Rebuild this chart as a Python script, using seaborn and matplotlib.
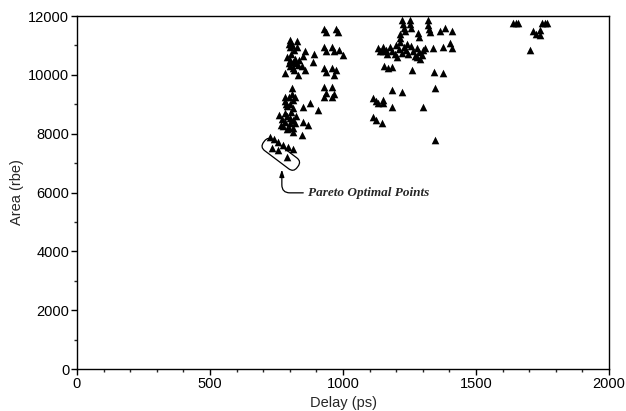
import matplotlib
matplotlib.use("Agg")
import matplotlib.pyplot as plt
import matplotlib.transforms as mtransforms
from matplotlib.patches import FancyBboxPatch
from matplotlib.ticker import MultipleLocator
import pandas as pd
import seaborn as sns

# design points: delay (ps), area (rbe)
delay_a = [800, 805, 810, 800, 826, 826, 850, 857, 891, 888,
           790, 800, 812, 820, 830, 845, 800, 812, 825,
           795, 815, 805, 795, 835, 815,
           782, 831, 857, 807, 807, 820, 782,
           782, 790, 812, 812, 800, 850, 876, 906,
           785, 795, 805, 780, 800, 825, 790, 820, 775,
           760, 770, 780, 790, 800, 812, 765, 795,
           850, 868, 812, 812, 845,
           726, 742, 754, 776, 794, 813]
area_a = [11200, 11100, 11000, 10950, 11150, 10950, 10650, 10800, 10700, 10450,
          10600, 10500, 10450, 10550, 10350, 10300, 10300, 10250, 10400,
          11050, 10850, 10700, 10400, 10500, 10150,
          10080, 9990, 10160, 9550, 9350, 9250, 9250,
          9100, 8950, 9140, 8880, 9000, 8920, 9040, 8800,
          9000, 9250, 8750, 8700, 8550, 8600, 8150, 8350, 8250,
          8620, 8500, 8400, 8600, 8350, 8450, 8300, 8200,
          8410, 8290, 8190, 8050, 7950,
          7896, 7818, 7726, 7614, 7556, 7478]

delay_b = [930, 935, 975, 980, 930, 935, 960, 965, 985, 1000,
           930, 935, 960, 965, 975, 930, 935, 960, 965, 930, 960]
area_b = [11550, 11450, 11550, 11450, 10950, 10800, 10950, 10800, 10850, 10670,
          10250, 10100, 10250, 10000, 10150, 9600, 9400, 9600, 9350, 9250, 9250]

delay_c = [1222, 1225, 1228, 1232, 1252, 1252, 1255, 1282, 1285, 1320,
           1320, 1323, 1326, 1365, 1383, 1410, 1214, 1214, 1214,
           1130, 1140, 1150, 1160, 1165, 1175, 1185, 1195, 1200, 1210,
           1220, 1228, 1238, 1245, 1255, 1262, 1270, 1278, 1285, 1295,
           1300, 1203, 1278, 1290, 1150, 1240,
           1308, 1338, 1376, 1410, 1402,
           1155, 1170, 1185, 1260, 1340, 1376, 1184, 1222, 1346,
           1113, 1125, 1132, 1150, 1150, 1184, 1300,
           1113, 1125, 1147, 1346]
area_c = [11850, 11720, 11600, 11500, 11850, 11720, 11580, 11420, 11300, 11850,
          11700, 11560, 11450, 11500, 11580, 11500, 11400, 11250, 11120,
          10900, 10800, 10950, 10850, 10700, 10950, 10820, 10700, 11000, 10880,
          10750, 10950, 10850, 10700, 10980, 10800, 10650, 10900, 10780, 10680,
          10850, 10600, 10600, 10530, 10800, 11050,
          10910, 10910, 10950, 10910, 11100,
          10300, 10250, 10280, 10160, 10100, 10060, 9480, 9420, 9550,
          9200, 9100, 9040, 9150, 9050, 8900, 8900,
          8560, 8460, 8360, 7780]

delay_d = [1640, 1650, 1658, 1748, 1758, 1767, 1714, 1725, 1741, 1741, 1703]
area_d = [11760, 11760, 11760, 11760, 11760, 11760, 11500, 11400, 11520, 11350, 10840]

# pareto optimal points (inside the loop)
delay_p = [732, 757, 788]
area_p = [7522, 7444, 7216]

df = pd.DataFrame({
    "delay": delay_a + delay_b + delay_c + delay_d + delay_p,
    "area": area_a + area_b + area_c + area_d + area_p,
})

sns.set_style("ticks")
plt.rcParams["font.family"] = ["Liberation Sans", "DejaVu Sans"]

fig = plt.figure(figsize=(6.26, 4.11), dpi=100)
ax = fig.add_axes([0.123, 0.102, 0.850, 0.859])

sns.scatterplot(data=df, x="delay", y="area", marker="^", color="black",
                s=30, linewidth=0, ax=ax)

ax.set_xlim(0, 2000)
ax.set_ylim(0, 12000)
ax.xaxis.set_major_locator(MultipleLocator(500))
ax.xaxis.set_minor_locator(MultipleLocator(100))
ax.yaxis.set_major_locator(MultipleLocator(2000))
ax.yaxis.set_minor_locator(MultipleLocator(1000))
ax.tick_params(which="major", length=4, width=1, labelsize=10.5, pad=1.5, colors="black")
ax.tick_params(which="minor", length=2.5, width=1)
for sp in ax.spines.values():
    sp.set_linewidth(1.0)
    sp.set_color("black")

ax.set_xlabel("Delay (ps)", fontsize=10.5, labelpad=4)
ax.set_ylabel("Area (rbe)", fontsize=10.5, labelpad=3)

# loop around the pareto points
trans = (mtransforms.Affine2D().rotate_deg(-37) + fig.dpi_scale_trans
         + mtransforms.ScaledTranslation(766, 7300, ax.transData))
loop = FancyBboxPatch((-0.21, -0.068), 0.42, 0.136,
                      boxstyle="round,pad=0,rounding_size=0.06",
                      transform=trans, fill=False, edgecolor="black", linewidth=0.9)
ax.add_patch(loop)

ax.annotate("Pareto Optimal Points", xy=(770, 6780), xytext=(868, 5990),
            fontsize=9.5, fontstyle="italic", fontweight="bold",
            family=["Liberation Serif", "DejaVu Serif"], ha="left", va="center",
            arrowprops=dict(arrowstyle="-|>,head_length=0.45,head_width=0.15",
                            color="black", lw=0.9, shrinkA=1, shrinkB=0,
                            connectionstyle="angle,angleA=180,angleB=90,rad=8"))

fig.savefig("out.png", dpi=100)
